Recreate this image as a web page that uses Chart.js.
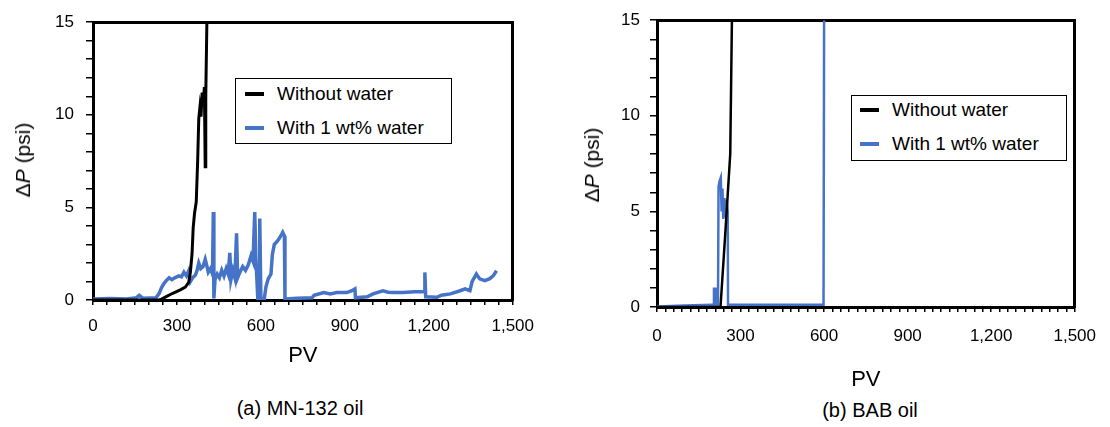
<!DOCTYPE html>
<html>
<head>
<meta charset="utf-8">
<script src="https://cdn.jsdelivr.net/npm/chart.js@4/dist/chart.umd.min.js"></script>
<style>
  body { margin:0; background:#fff; width:1110px; height:427px; position:relative; overflow:hidden; font-family:'Liberation Sans', Arial, sans-serif; color:#000; }
  canvas { position:absolute; top:0; }
  .ytitle { position:absolute; font-size:21px; white-space:nowrap; transform:translate(-50%,-50%) rotate(-90deg); }
  .caption { position:absolute; font-size:20px; white-space:nowrap; transform:translate(-50%,-50%); }
  .legend { position:absolute; border:1.5px solid #000; box-sizing:border-box; background:#fff; }
  .legend .row { position:absolute; left:0; right:0; height:0; }
  .legend .sw { position:absolute; width:19px; height:4px; top:-2px; }
  .legend .txt { position:absolute; font-size:19px; line-height:19px; top:-10px; white-space:nowrap; }
</style>
</head>
<body>
<canvas id="chartA" width="545" height="372" style="left:0"></canvas>
<canvas id="chartB" width="550" height="396" style="left:560px"></canvas>

<div class="ytitle" style="left:23px;top:160px">Δ<i>P</i> (psi)</div>
<div class="ytitle" style="left:592px;top:165px">Δ<i>P</i> (psi)</div>
<div class="caption" style="left:300px;top:408px">(a) MN-132 oil</div>
<div class="caption" style="left:870px;top:410px">(b) BAB oil</div>
<div class="legend" id="legA" style="left:235px;top:78px;width:217px;height:66px"></div>
<div class="legend" id="legB" style="left:851px;top:95px;width:216px;height:66px"></div>

<script>
// ── Data ──────────────────────────────────────────────────
const seriesNames = ['Without water', 'With 1 wt% water'];
const xTickLabels = ['0', '300', '600', '900', '1,200', '1,500'];
const yTickLabels = ['0', '5', '10', '15'];

// (a) MN-132 oil
const mnDryPV = [0, 236, 245, 260, 283, 312, 330, 342, 348, 354, 358, 363, 369, 374, 378, 382, 386, 390, 394, 398, 401, 403, 407];
const mnDryDP = [0, 0, 0.05, 0.17, 0.35, 0.55, 0.7, 0.95, 1.5, 2.5, 3.9, 4.7, 5.3, 7.5, 9.8, 10.4, 9.9, 11.2, 10.6, 11.5, 7.2, 11, 15];
const mnWetPV = [0, 60, 120, 155, 165, 178, 225, 236, 246, 254, 262, 272, 282, 292, 307, 316, 325, 334, 342, 348, 356, 366, 372, 378, 385, 393, 401, 406, 412, 420, 427, 430, 432, 436, 444, 452, 460, 468, 476, 483, 489, 493, 500, 507, 513, 517, 525, 535, 545, 555, 565, 572, 578, 582, 589, 594, 596, 600, 612, 618, 626, 636, 641, 648, 658, 666, 678, 684, 686, 730, 783, 790, 825, 848, 871, 907, 925, 936, 938, 980, 1001, 1036, 1055, 1072, 1107, 1150, 1183, 1186, 1189, 1229, 1245, 1277, 1312, 1330, 1347, 1355, 1370, 1382, 1400, 1418, 1430, 1442];
const mnWetDP = [0.05, 0.08, 0.05, 0.12, 0.25, 0.1, 0.12, 0.35, 0.7, 0.9, 1.05, 1.2, 1.1, 1.2, 1.3, 1.25, 1.5, 1.3, 1.58, 1.0, 1.2, 1.35, 1.6, 2.0, 1.7, 1.8, 2.2, 1.9, 1.5, 1.7, 1.4, 4.75, 0.08, 1.1, 1.4, 1.2, 1.6, 1.3, 1.7, 1.4, 2.55, 1.1, 1.6, 1.2, 3.6, 1.2, 1.5, 1.8, 1.6, 1.9, 2.4, 2.1, 4.75, 2.3, 0.05, 0.05, 4.4, 0.05, 0.05, 0.7, 1.14, 1.4, 2.46, 3.0, 3.16, 3.33, 3.65, 3.45, 0.05, 0.1, 0.12, 0.26, 0.4, 0.33, 0.4, 0.4, 0.5, 0.6, 0.12, 0.17, 0.33, 0.5, 0.42, 0.4, 0.4, 0.45, 0.45, 1.49, 0.17, 0.15, 0.26, 0.33, 0.5, 0.6, 0.5, 1.0, 1.4, 1.14, 1.05, 1.15, 1.3, 1.58];

// (b) BAB oil
const babDryPV = [0, 228, 245, 263, 269];
const babDryDP = [0, 0, 3.8, 8, 15];
const babWetPV = [0, 100, 200, 204, 204.5, 212, 213, 219, 221, 225, 229, 232, 235, 238, 242, 246, 250, 254, 255, 598, 600];
const babWetDP = [0.03, 0.08, 0.12, 0.12, 0.96, 0.96, 0.1, 0.1, 6.3, 6.6, 6.77, 5.0, 6.2, 4.6, 5.7, 4.7, 5.6, 5.0, 0.12, 0.12, 15];

const COLORS = ['#000000', '#4573C7'];
const FONT = "'Liberation Sans', Arial, sans-serif";

// ── Helpers ───────────────────────────────────────────────
function pts(pv, dp) { return pv.map((x, i) => ({ x, y: dp[i] })); }

function lineSet(label, pv, dp, color, width) {
  return { label, data: pts(pv, dp), borderColor: color, backgroundColor: color, borderWidth: width, pointRadius: 0, tension: 0, fill: false };
}

function frameAxis(pos) {
  return { type: 'linear', position: pos, min: 0, max: pos === 'top' ? 1500 : 15,
    ticks: { display: false }, grid: { display: false, drawTicks: false },
    border: { display: true, color: '#000', width: 3 },
    afterFit: s => { if (pos === 'top') s.height = 0; else s.width = 0; } };
}

function makeChart(id, sets, o) {
  return new Chart(document.getElementById(id), {
    type: 'line',
    data: { datasets: sets },
    options: {
      responsive: false, animation: false, devicePixelRatio: 1,
      layout: { padding: { left: 0, right: 27, top: 15, bottom: 0 } },
      plugins: { legend: { display: false }, tooltip: { enabled: false } },
      scales: {
        x: { type: 'linear', min: 0, max: 1500,
          ticks: { stepSize: o.xStep, autoSkip: false, maxRotation: 0, padding: o.xPad, color: '#000', font: { family: FONT, size: 17 },
            callback: v => v % 300 === 0 ? xTickLabels[v / 300] : '' },
          grid: { drawOnChartArea: false, drawTicks: true, tickLength: 5, tickColor: '#000', lineWidth: 1.5 },
          border: { display: true, color: '#000', width: 3 },
          title: { display: true, text: 'PV', color: '#000', font: { family: FONT, size: 22 }, padding: { top: 0, bottom: 3 } },
          afterFit: s => { s.height = o.xHeight; } },
        y: { type: 'linear', min: 0, max: 15,
          ticks: { stepSize: 1, autoSkip: false, padding: o.yPad, color: '#000', font: { family: FONT, size: 17 },
            callback: v => v % 5 === 0 ? yTickLabels[v / 5] : '' },
          grid: { drawOnChartArea: false, drawTicks: true, tickLength: 7, tickColor: '#000', lineWidth: 1.5 },
          border: { display: true, color: '#000', width: 3 },
          afterFit: s => { s.width = o.yWidth; } },
        x2: frameAxis('top'),
        y2: frameAxis('right')
      }
    }
  });
}

function htmlLegend(boxId, chart, rows, swLeft, txtLeft) {
  const box = document.getElementById(boxId);
  chart.data.datasets.forEach((ds, i) => {
    const row = document.createElement('div');
    row.className = 'row';
    row.style.top = rows[i] + 'px';
    row.innerHTML = '<span class="sw" style="left:' + swLeft + 'px;background:' + ds.borderColor + '"></span>' +
                    '<span class="txt" style="left:' + txtLeft + 'px">' + ds.label + '</span>';
    box.appendChild(row);
  });
}

// ── Charts ────────────────────────────────────────────────
const chartA = makeChart('chartA', [
  lineSet(seriesNames[0], mnDryPV, mnDryDP, COLORS[0], 3),
  lineSet(seriesNames[1], mnWetPV, mnWetDP, COLORS[1], 3.5)
], { xStep: 50, xPad: 11, yPad: 12, xHeight: 72, yWidth: 93 });

const chartB = makeChart('chartB', [
  lineSet(seriesNames[0], babDryPV, babDryDP, COLORS[0], 2.5),
  lineSet(seriesNames[1], babWetPV, babWetDP, COLORS[1], 2.5)
], { xStep: 30, xPad: 14, yPad: 10, xHeight: 89, yWidth: 97 });

htmlLegend('legA', chartA, [15, 49], 9, 41);
htmlLegend('legB', chartB, [14, 48], 8, 40);
</script>
</body>
</html>
